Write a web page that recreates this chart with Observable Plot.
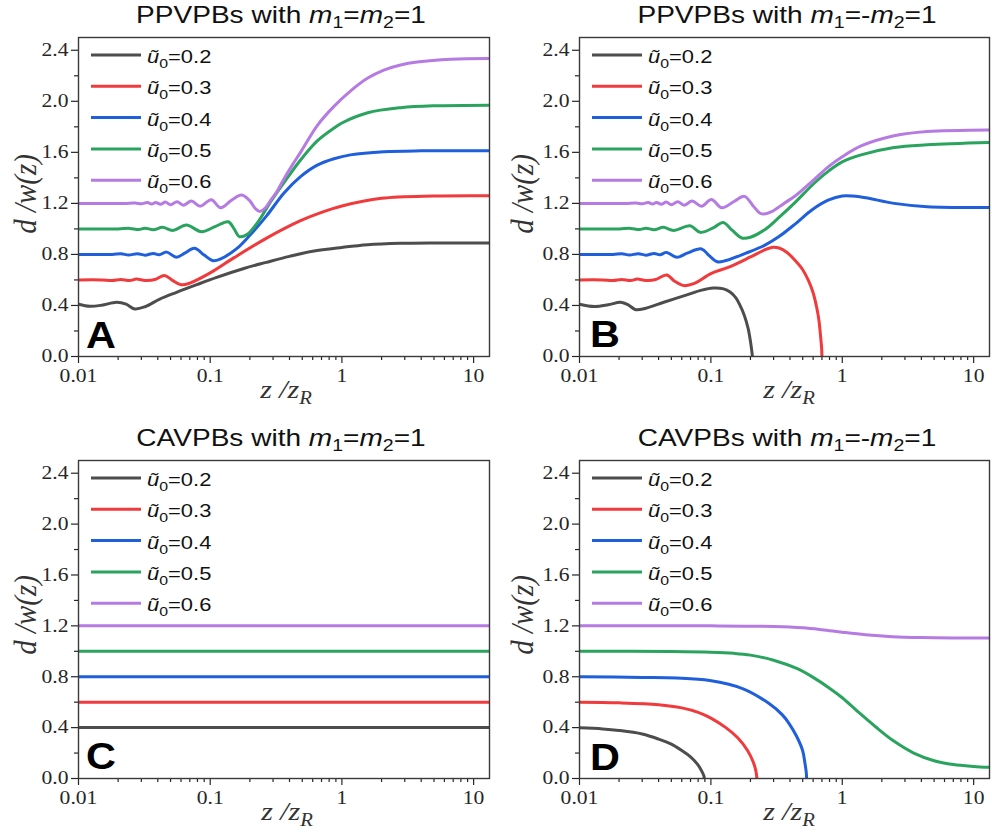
<!DOCTYPE html>
<html><head><meta charset="utf-8">
<script src="https://cdn.jsdelivr.net/npm/d3@7"></script>
<script src="https://cdn.jsdelivr.net/npm/@observablehq/plot@0.6"></script>
<style>
html,body{margin:0;padding:0;background:#fff;}
#page{position:relative;width:992px;height:836px;overflow:hidden;background:#fff;}
.panel{position:absolute;}
#overlay{position:absolute;left:0;top:0;pointer-events:none;}
</style></head><body><div id="page"></div>
<script>
// ---------- axes ----------
const xDomain = [0.01, 13.2];
const yDomain = [0, 2.5];
const xTicks = [0.01, 0.1, 1, 10];
const xTickLabels = ["0.01", "0.1", "1", "10"];
const xMinor = [0.02,0.03,0.04,0.05,0.06,0.07,0.08,0.09,0.2,0.3,0.4,0.5,0.6,0.7,0.8,0.9,2,3,4,5,6,7,8,9];
const yTicks = [0, 0.4, 0.8, 1.2, 1.6, 2.0, 2.4];
const yTickLabels = ["0.0","0.4","0.8","1.2","1.6","2.0","2.4"];
const yMinor = [0.2, 0.6, 1.0, 1.4, 1.8, 2.2];

// ---------- series ----------
const seriesKeys = ["0.2", "0.3", "0.4", "0.5", "0.6"];
const seriesColors = ["#4d4d4d", "#f03a3c", "#1f5fdc", "#2aa35e", "#b57be2"];
const panelLetters = ["A", "B", "C", "D"];

// Panel A: PPVPBs, m1 = m2 = 1
const A02 = [[0.01,0.41],[0.0122,0.394],[0.015,0.402],[0.0195,0.425],[0.023,0.41],[0.0267,0.373],[0.032,0.39],[0.0414,0.45],[0.0555,0.503],[0.08,0.565],[0.112,0.62],[0.18,0.69],[0.267,0.738],[0.4,0.785],[0.6,0.825],[1.0,0.855],[1.57,0.876],[2.8,0.887],[5,0.89],[13.2,0.89]];
const A03 = [[0.01,0.6],[0.015,0.6],[0.018,0.596],[0.021,0.604],[0.0245,0.595],[0.0275,0.607],[0.032,0.596],[0.038,0.603],[0.045,0.635],[0.052,0.595],[0.06,0.562],[0.07,0.575],[0.1,0.655],[0.152,0.775],[0.27,0.93],[0.485,1.065],[0.7,1.13],[1.0,1.18],[2.0,1.24],[5,1.258],[13.2,1.26]];
const A04 = [[0.01,0.8],[0.018,0.8],[0.021,0.806],[0.024,0.795],[0.028,0.806],[0.032,0.794],[0.037,0.808],[0.041,0.797],[0.0466,0.818],[0.0555,0.778],[0.064,0.81],[0.076,0.848],[0.09,0.795],[0.105,0.751],[0.12,0.765],[0.158,0.843],[0.2,0.95],[0.267,1.1],[0.362,1.28],[0.485,1.41],[0.65,1.50],[0.87,1.55],[1.16,1.58],[2.08,1.605],[4,1.612],[13.2,1.612]];
const A05 = [[0.01,1.0],[0.02,1.0],[0.0245,1.004],[0.0286,0.995],[0.032,1.006],[0.037,0.993],[0.0435,1.012],[0.052,0.988],[0.066,1.03],[0.086,0.978],[0.11,1.02],[0.137,1.056],[0.152,1.0],[0.166,0.94],[0.19,0.955],[0.225,1.04],[0.25,1.11],[0.271,1.17],[0.3,1.24],[0.362,1.36],[0.485,1.54],[0.65,1.69],[0.87,1.79],[1.0,1.83],[1.57,1.91],[2.8,1.95],[5,1.965],[13.2,1.97]];
const A06 = [[0.01,1.2],[0.022,1.2],[0.027,1.203],[0.030,1.197],[0.0334,1.206],[0.036,1.195],[0.0386,1.207],[0.042,1.193],[0.0457,1.21],[0.050,1.19],[0.056,1.213],[0.0625,1.186],[0.072,1.218],[0.084,1.178],[0.102,1.228],[0.12,1.166],[0.145,1.225],[0.173,1.265],[0.20,1.22],[0.22,1.16],[0.238,1.137],[0.265,1.17],[0.29,1.23],[0.32,1.29],[0.362,1.39],[0.42,1.5],[0.485,1.6],[0.65,1.81],[0.87,1.96],[1.16,2.08],[1.56,2.18],[2.08,2.245],[2.79,2.285],[3.73,2.308],[6.7,2.33],[13.2,2.335]];

// Panel B: PPVPBs, m1 = -m2 = 1
const B02 = [[0.01,0.41],[0.013,0.392],[0.0165,0.405],[0.0206,0.425],[0.0235,0.405],[0.0267,0.367],[0.032,0.378],[0.0438,0.425],[0.0656,0.483],[0.085,0.52],[0.104,0.537],[0.125,0.53],[0.14,0.505],[0.155,0.46],[0.165,0.41],[0.18,0.32],[0.192,0.22],[0.2,0.12],[0.205,0.04],[0.207,0]];
const B03 = [[0.01,0.6],[0.015,0.6],[0.018,0.596],[0.021,0.604],[0.0245,0.595],[0.0275,0.607],[0.032,0.596],[0.038,0.603],[0.046,0.639],[0.053,0.59],[0.062,0.556],[0.075,0.573],[0.1,0.65],[0.137,0.70],[0.2,0.78],[0.25,0.83],[0.29,0.855],[0.33,0.85],[0.38,0.815],[0.44,0.75],[0.5,0.68],[0.55,0.6],[0.6,0.5],[0.64,0.38],[0.665,0.28],[0.685,0.15],[0.697,0.06],[0.70,0]];
const B04 = [[0.01,0.8],[0.018,0.8],[0.021,0.806],[0.024,0.795],[0.028,0.806],[0.032,0.794],[0.037,0.808],[0.041,0.797],[0.046,0.816],[0.055,0.777],[0.066,0.81],[0.085,0.843],[0.097,0.79],[0.112,0.742],[0.13,0.752],[0.185,0.81],[0.26,0.875],[0.33,0.94],[0.44,1.04],[0.59,1.15],[0.78,1.225],[1.0,1.258],[1.39,1.25],[2.48,1.20],[4.43,1.174],[13.2,1.168]];
const B05 = [[0.01,1.0],[0.02,1.0],[0.0245,1.004],[0.0286,0.995],[0.032,1.006],[0.037,0.993],[0.0435,1.012],[0.052,0.988],[0.0695,1.025],[0.083,0.973],[0.105,1.01],[0.124,1.051],[0.145,0.99],[0.172,0.929],[0.2,0.935],[0.262,1.0],[0.33,1.09],[0.44,1.21],[0.6,1.35],[0.79,1.455],[1.0,1.525],[1.39,1.58],[2.48,1.638],[4.43,1.659],[13.2,1.677]];
const B06 = [[0.01,1.2],[0.022,1.2],[0.027,1.203],[0.030,1.197],[0.0334,1.206],[0.036,1.195],[0.0386,1.207],[0.042,1.193],[0.0457,1.21],[0.050,1.19],[0.056,1.213],[0.0625,1.186],[0.072,1.218],[0.085,1.178],[0.101,1.23],[0.121,1.165],[0.15,1.215],[0.18,1.255],[0.21,1.18],[0.235,1.125],[0.256,1.117],[0.29,1.135],[0.36,1.2],[0.44,1.26],[0.6,1.38],[0.79,1.49],[1.0,1.565],[1.39,1.65],[2.48,1.73],[4.43,1.763],[13.2,1.776]];

// Panel C: CAVPBs, m1 = m2 = 1
const C02 = [[0.01,0.4],[13.2,0.4]];
const C03 = [[0.01,0.6],[13.2,0.6]];
const C04 = [[0.01,0.8],[13.2,0.8]];
const C05 = [[0.01,1.0],[13.2,1.0]];
const C06 = [[0.01,1.2],[13.2,1.2]];

// Panel D: CAVPBs, m1 = -m2 = 1
const D02 = [[0.01,0.398],[0.015,0.39],[0.02,0.378],[0.03,0.35],[0.04,0.31],[0.05,0.27],[0.06,0.22],[0.07,0.17],[0.08,0.105],[0.085,0.06],[0.0885,0.02],[0.089,0]];
const D03 = [[0.01,0.6],[0.02,0.595],[0.04,0.58],[0.06,0.555],[0.08,0.52],[0.1,0.475],[0.13,0.40],[0.16,0.32],[0.19,0.22],[0.21,0.13],[0.22,0.06],[0.224,0]];
const D04 = [[0.01,0.8],[0.03,0.795],[0.055,0.79],[0.098,0.77],[0.176,0.705],[0.279,0.587],[0.35,0.5],[0.395,0.43],[0.45,0.33],[0.499,0.22],[0.52,0.12],[0.533,0.04],[0.535,0]];
const D05 = [[0.01,1.0],[0.05,0.998],[0.1,0.993],[0.15,0.984],[0.2,0.97],[0.3,0.93],[0.45,0.865],[0.6,0.795],[0.8,0.71],[1.0,0.635],[1.3,0.53],[1.8,0.405],[2.5,0.29],[3.5,0.2],[5,0.14],[7,0.11],[10,0.095],[13.2,0.088]];
const D06 = [[0.01,1.2],[0.1,1.2],[0.3,1.195],[0.5,1.185],[0.7,1.17],[1.0,1.15],[1.5,1.13],[2.4,1.115],[4,1.108],[8,1.105],[13.2,1.104]];

// ---------- layout ----------
const SX = 1.22;      // horizontal stretch of the original figure's glyphs
const TSX = 1.2;      // stretch of tick labels
const panels = [
  {series:[A02,A03,A04,A05,A06], left:0,   top:30,  ml:78, mr:7, mb:34},
  {series:[B02,B03,B04,B05,B06], left:496, top:30,  ml:83, mr:3, mb:34},
  {series:[C02,C03,C04,C05,C06], left:0,   top:453, ml:78, mr:7, mb:35},
  {series:[D02,D03,D04,D05,D06], left:496, top:453, ml:83, mr:3, mb:35}
];
const page = document.getElementById("page");
const tickFont = "'Liberation Serif','Times New Roman',serif";

function stretchTexts(svg) {
  svg.querySelectorAll('g[aria-label$="tick label"] text').forEach(t => {
    const tr = t.getAttribute("transform");
    if (tr) t.setAttribute("transform", tr + ` scale(${TSX},1)`);
  });
}

panels.forEach((p, pi) => {
  const rows = [];
  p.series.forEach((pts, i) => pts.forEach(([x, y]) => rows.push({x, y, k: seriesKeys[i]})));
  const chart = Plot.plot({
    width: 496, height: 360,
    marginLeft: p.ml, marginRight: p.mr, marginTop: 7, marginBottom: p.mb,
    style: {fontFamily: tickFont, fontSize: "18px", color: "#262626", background: "transparent", overflow: "visible"},
    x: {type: "log", domain: xDomain, label: null},
    y: {domain: yDomain, label: null},
    color: {domain: seriesKeys, range: seriesColors},
    marks: [
      Plot.line(rows, {x: "x", y: "y", z: "k", stroke: "k", strokeWidth: 3, curve: "catmull-rom", clip: true}),
      Plot.axisY({ticks: yMinor, tickSize: 4, tickFormat: () => "", label: null, strokeWidth: 1.2}),
      Plot.axisY({ticks: yTicks, tickSize: 7, tickPadding: 3, tickFormat: d => yTickLabels[yTicks.indexOf(d)], label: null, strokeWidth: 1.2, fontSize: 18}),
      Plot.axisX({ticks: xMinor, tickSize: 4, tickFormat: () => "", label: null, strokeWidth: 1.2}),
      Plot.axisX({ticks: xTicks, tickSize: 7, tickPadding: 6, tickFormat: d => xTickLabels[xTicks.indexOf(d)], label: null, strokeWidth: 1.2, fontSize: 18}),
      Plot.frame({stroke: "#3a3a3a", strokeWidth: 1.4})
    ]
  });
  stretchTexts(chart);
  const wrap = document.createElement("div");
  wrap.className = "panel";
  wrap.style.left = p.left + "px";
  wrap.style.top = p.top + "px";
  wrap.appendChild(chart);
  page.appendChild(wrap);
});

// ---------- overlay: titles, legends, axis labels, panel letters ----------
const NS = "http://www.w3.org/2000/svg";
const ov = document.createElementNS(NS, "svg");
ov.setAttribute("id", "overlay");
ov.setAttribute("width", 992); ov.setAttribute("height", 836);
page.appendChild(ov);
function el(tag, attrs, parent) {
  const e = document.createElementNS(NS, tag);
  for (const k in attrs) e.setAttribute(k, attrs[k]);
  (parent || ov).appendChild(e);
  return e;
}
function span(parent, txt, attrs) { const s = el("tspan", attrs || {}, parent); s.textContent = txt; return s; }

const sans = "'Liberation Sans',Arial,Helvetica,sans-serif";
const serif = "'Liberation Serif','Times New Roman',serif";
const geo = [
  {cx: 281, ty: 23, fl: 78,  ft: 37,  axisCx: 286, xlabY: 398, ylabX: 36, ylabY: 194, letX: 86,  letY: 348},
  {cx: 787, ty: 23, fl: 579, ft: 37,  axisCx: 789, xlabY: 398, ylabX: 533, ylabY: 194, letX: 590, letY: 347},
  {cx: 281, ty: 446, fl: 78, ft: 460, axisCx: 287, xlabY: 820, ylabX: 36, ylabY: 615, letX: 86,  letY: 769},
  {cx: 787, ty: 446, fl: 579, ft: 460, axisCx: 789, xlabY: 820, ylabX: 533, ylabY: 615, letX: 590, letY: 770}
];
geo.forEach((g, pi) => {
  const neg = pi % 2 === 1;
  const t = el("text", {transform: `translate(${g.cx},${g.ty}) scale(${SX},1)`, "text-anchor": "middle", "font-family": sans, "font-size": 23, fill: "#111"});
  span(t, (pi < 2 ? "PPVPBs" : "CAVPBs") + " with ");
  span(t, "m", {"font-style": "italic"});
  span(t, "1", {dy: 5, "font-size": 16});
  span(t, neg ? "=-" : "=", {dy: -5});
  span(t, "m", {"font-style": "italic"});
  span(t, "2", {dy: 5, "font-size": 16});
  span(t, "=1", {dy: -5});
  seriesKeys.forEach((k, i) => {
    const y = g.ft + 18 + i * 31.3;
    const x0 = g.fl + 13;
    el("line", {x1: x0, x2: x0 + 50, y1: y, y2: y, stroke: seriesColors[i], "stroke-width": 3});
    const lt = el("text", {transform: `translate(${x0 + 56},${y + 8}) scale(${SX},1)`, "font-family": sans, "font-size": 18, fill: "#111"});
    span(lt, "ũ", {"font-style": "italic"});
    span(lt, "0", {dy: 5, "font-size": 13});
    span(lt, "=" + k, {dy: -5});
  });
  const L = el("text", {transform: `translate(${g.letX},${g.letY}) scale(1.12,1)`, "font-family": sans, "font-weight": "bold", "font-size": 37, fill: "#000"});
  L.textContent = panelLetters[pi];
  const xl = el("text", {transform: `translate(${g.axisCx},${g.xlabY}) scale(1.15,1)`, "text-anchor": "middle", "font-family": serif, "font-style": "italic", "font-size": 26, fill: "#333"});
  span(xl, "z /z");
  span(xl, "R", {dy: 6, "font-size": 18});
  const yl = el("text", {transform: `translate(${g.ylabX},${g.ylabY}) scale(1.12,1) rotate(-90)`, "text-anchor": "middle", "font-family": serif, "font-style": "italic", "font-size": 29, fill: "#333"});
  yl.textContent = "d /w(z)";
});
</script></body></html>
